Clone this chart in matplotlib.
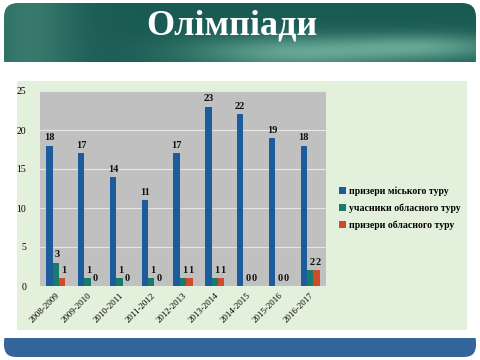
import numpy as np
import matplotlib
matplotlib.use('Agg')
import matplotlib.pyplot as plt
from matplotlib.patches import FancyBboxPatch, Rectangle

plt.rcParams['font.family'] = ['Liberation Serif', 'DejaVu Serif']

# Дані
years = ['2008-2009', '2009-2010', '2010-2011', '2011-2012', '2012-2013',
         '2013-2014', '2014-2015', '2015-2016', '2016-2017']
city_winners = [18, 17, 14, 11, 17, 23, 22, 19, 18]
region_participants = [3, 1, 1, 1, 1, 1, 0, 0, 2]
region_winners = [1, 0, 0, 0, 1, 1, 0, 0, 2]
series_names = ['призери міського туру', 'учасники обласного туру', 'призери обласного туру']
colors = ['#1c5b9c', '#1a7a6c', '#d14a2a']

fig = plt.figure(figsize=(4.8, 3.6), dpi=100)
fig.patch.set_facecolor('white')

# Фон слайда в піксельних координатах
bg = fig.add_axes([0, 0, 1, 1])
bg.set_xlim(0, 480)
bg.set_ylim(360, 0)
bg.axis('off')

# Верхній банер з градієнтом
banner = FancyBboxPatch((4, 3), 472, 70, boxstyle='round,pad=0,rounding_size=14',
                        facecolor='none', edgecolor='none')
bg.add_patch(banner)
gx = np.linspace(0, 1, 200)
gy = np.linspace(0, 1, 40)
GX, GY = np.meshgrid(gx, gy)
light = np.exp(-((GX - 0.62) ** 2) / 0.05 - ((GY - 0.85) ** 2) / 0.08) * 0.6 \
    + np.exp(-((GX - 0.9) ** 2) / 0.03 - ((GY - 0.75) ** 2) / 0.05) * 0.5 \
    + np.exp(-((GX - 0.05) ** 2) / 0.01) * 0.25
dark = np.array([0.10, 0.36, 0.33])
bright = np.array([0.58, 0.82, 0.72])
img = dark[None, None, :] + (bright - dark)[None, None, :] * np.clip(light, 0, 1)[:, :, None]
im = bg.imshow(img, extent=(4, 476, 62, 3), aspect='auto', zorder=1)
im.set_clip_path(banner)
bg.add_patch(Rectangle((4, 62), 472, 12, facecolor='white', edgecolor='none', zorder=2))
bg.text(232, 26, 'Олімпіади', color='white', fontsize=26, fontweight='bold',
        ha='center', va='center', zorder=3)

# Світло-зелена панель
bg.add_patch(Rectangle((17, 81), 450, 254, facecolor='#e3f1dc', edgecolor='none'))

# Нижня синя смуга
bg.add_patch(FancyBboxPatch((4, 330), 472, 27, boxstyle='round,pad=0,rounding_size=12',
                            facecolor='#33659a', edgecolor='none'))
bg.add_patch(Rectangle((4, 330), 472, 8, facecolor='white', edgecolor='none'))

# Діаграма
ax = fig.add_axes([40 / 480, 1 - 286 / 360, 286 / 480, 195 / 360])
ax.set_facecolor('#c0c0c0')
x = np.arange(len(years))
w = 0.2
series = [city_winners, region_participants, region_winners]
for k, (vals, c) in enumerate(zip(series, colors)):
    bars = ax.bar(x + (k - 1) * w, vals, w, color=c, label=series_names[k], zorder=3)
    for b, v in zip(bars, vals):
        ax.text(b.get_x() + b.get_width() / 2 + (0.05 if k else 0), v + 0.4, str(v),
                ha='center', va='bottom', fontsize=7.5, fontweight='bold', color='#111111')

ax.set_xlim(-0.5, len(years) - 0.5)
ax.set_ylim(0, 25)
ax.set_yticks([0, 5, 10, 15, 20, 25])
ax.yaxis.grid(True, color='#e6e6e6', linewidth=0.8, zorder=0)
ax.set_xticks(x)
ax.set_xticklabels(years, rotation=45, ha='right', rotation_mode='anchor', fontsize=6.5)
ax.tick_params(axis='y', labelsize=7, length=0, pad=10)
ax.tick_params(axis='x', length=0, pad=4)
for s in ax.spines.values():
    s.set_visible(False)

leg = fig.legend(loc='center left', bbox_to_anchor=(330 / 480, 1 - 208 / 360), frameon=False,
                 prop={'size': 7, 'weight': 'bold'}, handlelength=0.7, handleheight=0.7,
                 handletextpad=0.4, labelspacing=0.8)

fig.savefig('out.png', dpi=100)
